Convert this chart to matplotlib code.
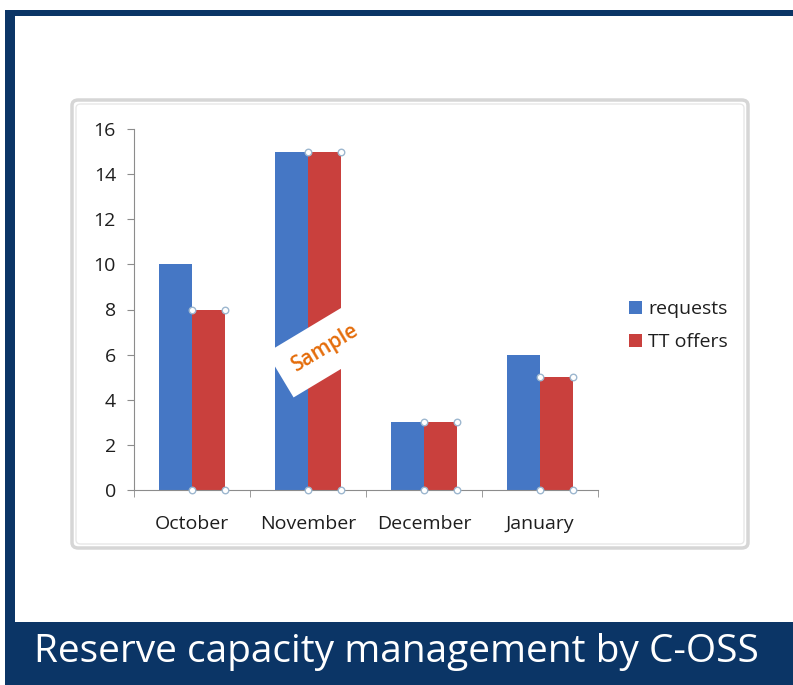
import numpy as np
import matplotlib.pyplot as plt
from matplotlib.patches import Rectangle, FancyBboxPatch

months = ["October", "November", "December", "January"]
requests = [10, 15, 3, 6]
tt_offers = [8, 15, 3, 5]
yticks = [0, 2, 4, 6, 8, 10, 12, 14, 16]

blue = "#4577C5"
red = "#C9403D"
navy = "#0B3566"
fam = ["Open Sans", "DejaVu Sans"]

fig = plt.figure(figsize=(7.93, 6.85), dpi=100)
fig.patch.set_facecolor("white")

# outer slide decoration: navy frame top/left and banner
fig.add_artist(Rectangle((5 / 793, 669 / 685), 788 / 793, 6 / 685, transform=fig.transFigure,
                         facecolor=navy, edgecolor="none", zorder=-2))
fig.add_artist(Rectangle((5 / 793, 63 / 685), 10 / 793, 612 / 685, transform=fig.transFigure,
                         facecolor=navy, edgecolor="none", zorder=-2))
fig.add_artist(Rectangle((5 / 793, 0), 788 / 793, 63 / 685, transform=fig.transFigure,
                         facecolor=navy, edgecolor="none", zorder=-2))
fig.text(0.5, 33 / 685, "Reserve capacity management by C-OSS", color="white",
         ha="center", va="center", fontsize=28, family=fam)

# chart frame
fig.add_artist(FancyBboxPatch((72 / 793, 137 / 685), 676 / 793, 448 / 685,
                              boxstyle="round,pad=0,rounding_size=0.008",
                              transform=fig.transFigure, facecolor="white",
                              edgecolor="#D6D6D6", linewidth=2.5, zorder=-1))
fig.add_artist(FancyBboxPatch((76 / 793, 141 / 685), 668 / 793, 440 / 685,
                              boxstyle="round,pad=0,rounding_size=0.006",
                              transform=fig.transFigure, facecolor="none",
                              edgecolor="#E8E8E8", linewidth=1, zorder=-1))

ax = fig.add_axes([134 / 793, 195 / 685, 464 / 793, 361 / 685])
ax.set_zorder(2)
ax.patch.set_alpha(0)
x = np.arange(len(months))
w = 0.285
ax.bar(x - w / 2, requests, w, color=blue, label="requests", zorder=2)
ax.bar(x + w / 2, tt_offers, w, color=red, label="TT offers", zorder=2)

# selection handles on the red series
hx = np.concatenate([x, x + w])
ax.scatter(hx, np.concatenate([tt_offers, tt_offers]), s=22, facecolor="white",
           edgecolor="#9DB7CF", linewidth=1, zorder=4, clip_on=False)
ax.scatter(hx, np.zeros(len(hx)), s=22, facecolor="white",
           edgecolor="#9DB7CF", linewidth=1, zorder=4, clip_on=False)

ax.set_xlim(-0.5, len(months) - 0.5)
ax.set_ylim(0, 16)
ax.set_yticks(yticks)
ax.set_xticks(x)
ax.set_xticklabels(months)
ax.set_xticks(np.arange(len(months) + 1) - 0.5, minor=True)
ax.tick_params(axis="x", which="major", length=0, pad=18)
ax.tick_params(axis="x", which="minor", length=5, color="#8C8C8C", direction="out")
ax.tick_params(axis="y", length=5, color="#8C8C8C", pad=8)
for lab in ax.get_xticklabels() + ax.get_yticklabels():
    lab.set_fontsize(14)
    lab.set_family(fam)
    lab.set_color("#1E1E1E")
for s in ["top", "right"]:
    ax.spines[s].set_visible(False)
for s in ["left", "bottom"]:
    ax.spines[s].set_color("#8C8C8C")

# watermark
ax.text(1.15, 6.3, "Sample", rotation=31, color="#E46C0A", fontsize=15,
        fontweight="semibold", ha="center", va="center", zorder=5, family=fam,
        bbox=dict(boxstyle="square,pad=0.75", facecolor="white", edgecolor="none"))

leg = ax.legend(loc="center left", bbox_to_anchor=(1.03, 0.455), frameon=False,
                handlelength=0.65, handleheight=0.65, handletextpad=0.3,
                prop={"family": fam, "size": 14}, labelspacing=0.75)
for t in leg.get_texts():
    t.set_color("#1E1E1E")

fig.savefig("out.png", dpi=100)
